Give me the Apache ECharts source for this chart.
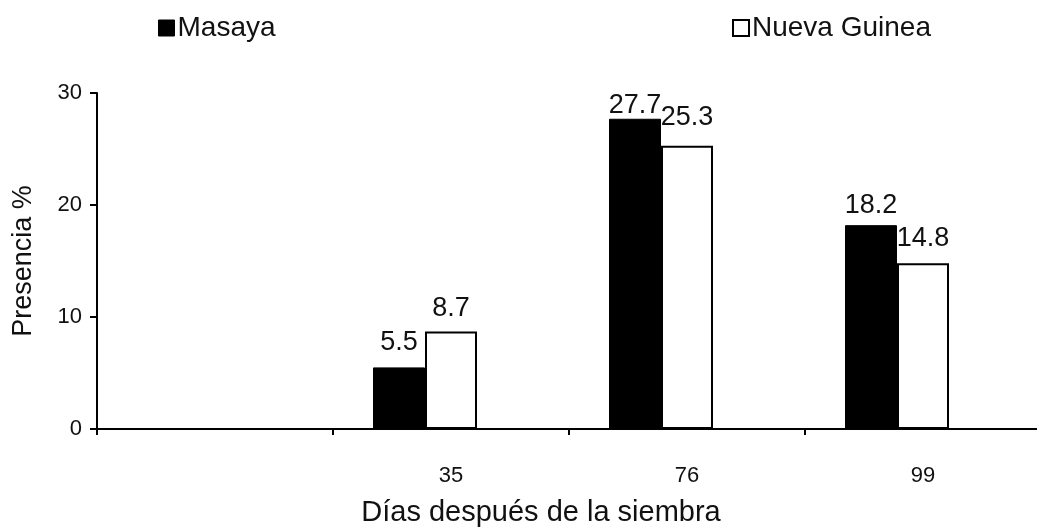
<!DOCTYPE html>
<html>
<head>
<meta charset="utf-8">
<title>Presencia % por días después de la siembra</title>
<script src="https://cdn.jsdelivr.net/npm/echarts@6/dist/echarts.min.js"></script>
<style>
  html, body { margin: 0; padding: 0; background: #fff; }
  #chart { width: 1037px; height: 529px; }
</style>
</head>
<body>
<div id="chart"></div>
<script>
// Days after sowing (first slot is left empty on the axis)
const categories = ['', '35', '76', '99'];
// Presence (%) per locality
const masaya = [null, 5.5, 27.7, 18.2];
const nuevaGuinea = [null, 8.7, 25.3, 14.8];
// Y axis range
const yTicks = [0, 10, 20, 30];

const FONT = "'Liberation Sans', Arial, Helvetica, sans-serif";
const INK = '#111';

// extra gap between a value label and its bar top, per bar
const labelGapMasaya = [0, 11, 0, 6];
const labelGapNueva = [0, 10, 15, 11];

function withLabels(values, gaps) {
  return values.map((v, i) => v == null ? null : { value: v, label: { distance: gaps[i] } });
}

const barLabel = {
  show: true,
  position: 'top',
  color: INK,
  fontFamily: FONT,
  fontSize: 27,
  formatter: p => p.value.toFixed(1)
};

const legendText = { fontFamily: FONT, fontSize: 28, color: INK, padding: [0, 0, 0, -2] };

const chart = echarts.init(document.getElementById('chart'), null, { renderer: 'canvas' });

chart.setOption({
  animation: false,
  backgroundColor: '#fff',
  textStyle: { fontFamily: FONT, color: INK },
  legend: [
    {
      data: ['Masaya'],
      left: 158, top: 14, padding: 0,
      itemWidth: 16, itemHeight: 16,
      icon: 'rect',
      itemStyle: { color: '#000', borderColor: '#000', borderWidth: 1 },
      textStyle: legendText
    },
    {
      data: ['Nueva Guinea'],
      left: 732, top: 14, padding: 0,
      itemWidth: 16, itemHeight: 16,
      icon: 'rect',
      itemStyle: { color: '#fff', borderColor: '#000', borderWidth: 2 },
      textStyle: legendText
    }
  ],
  grid: { left: 97, right: -4, top: 93, bottom: 100, containLabel: false, outerBoundsMode: 'none' },
  xAxis: {
    type: 'category',
    data: categories,
    boundaryGap: true,
    name: 'Días después de la siembra',
    nameLocation: 'middle',
    nameGap: 69,
    nameTextStyle: { fontFamily: FONT, fontSize: 29, color: INK, padding: [0, 56, 0, 0] },
    axisLine: { show: true, lineStyle: { color: '#000', width: 2 } },
    axisTick: { show: true, alignWithLabel: false, length: 6, lineStyle: { color: '#000', width: 2 } },
    axisLabel: { fontFamily: FONT, fontSize: 22, color: INK, margin: 36 },
    splitLine: { show: false }
  },
  yAxis: {
    type: 'value',
    min: yTicks[0],
    max: yTicks[yTicks.length - 1],
    interval: 10,
    name: 'Presencia %',
    nameLocation: 'middle',
    nameGap: 60,
    nameRotate: 90,
    nameTextStyle: { fontFamily: FONT, fontSize: 27, color: INK },
    axisLine: { show: true, lineStyle: { color: '#000', width: 2 } },
    axisTick: { show: true, length: 7, lineStyle: { color: '#000', width: 2 } },
    axisLabel: { fontFamily: FONT, fontSize: 22, color: INK, margin: 15 },
    splitLine: { show: false }
  },
  series: [
    {
      name: 'Masaya',
      type: 'bar',
      barWidth: 52,
      barGap: '0%',
      data: withLabels(masaya, labelGapMasaya),
      itemStyle: { color: '#000', borderColor: '#000', borderWidth: 1 },
      label: barLabel
    },
    {
      name: 'Nueva Guinea',
      type: 'bar',
      barWidth: 52,
      barGap: '0%',
      data: withLabels(nuevaGuinea, labelGapNueva),
      itemStyle: { color: '#fff', borderColor: '#000', borderWidth: 2 },
      label: barLabel
    },
    {
      // empty slot to the right of each pair
      name: 'espacio',
      type: 'bar',
      barWidth: 52,
      barGap: '0%',
      data: categories.map(() => null),
      silent: true
    }
  ]
});
</script>
</body>
</html>
